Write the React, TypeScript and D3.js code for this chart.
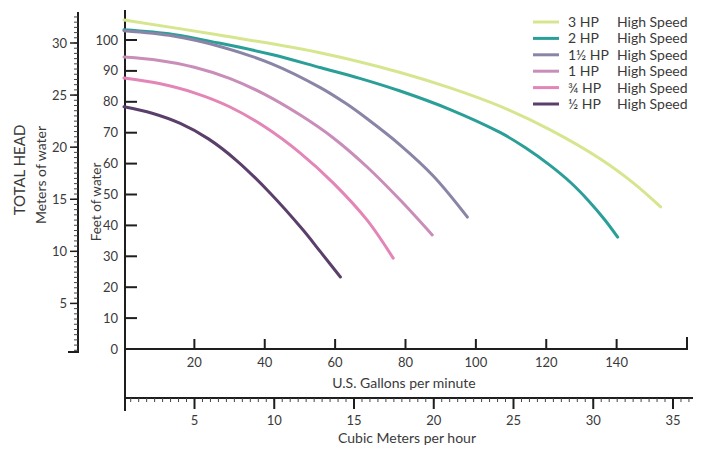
import React from "react";
import * as d3 from "d3";

const seriesNames = ["3 HP", "2 HP", "1½ HP", "1 HP", "¾ HP", "½ HP"];
const seriesColors = ["#d6e68e", "#2a9f98", "#8a85a6", "#c98db9", "#e385b6", "#5b3f6b"];

// [US gallons per minute, feet of water]
const hp3: [number, number][] = [[0, 106.5], [27, 101.6], [56, 95.8], [78.5, 89.5], [92.7, 84.5], [107, 78.5], [121, 71], [135.4, 61.5], [144.8, 53.7], [152.5, 46]];
const hp2: [number, number][] = [[0, 103.3], [14, 101.8], [27, 99], [42, 95.3], [56, 91], [67, 87.6], [78.5, 83.5], [92.7, 77.5], [107, 70], [114, 65.2], [121, 59.5], [127, 53.8], [132, 48], [136.5, 42], [140.3, 36.2]];
const hp15: [number, number][] = [[0, 103], [14, 101.3], [27, 98], [42, 92.3], [55.8, 84.6], [63, 79.5], [69.1, 74.5], [78.5, 66], [87.9, 56], [97.6, 42.7]];
const hp1: [number, number][] = [[0, 94.5], [10, 93.4], [20, 91.2], [30, 87.6], [40, 82.4], [50.1, 75.7], [59.5, 68.3], [69.1, 58.9], [78.5, 48.2], [87.6, 36.9]];
const hp075: [number, number][] = [[0, 87.7], [10, 85.9], [20, 82.9], [30, 78.4], [40, 71.9], [50.1, 63.4], [59.5, 53.7], [69.1, 41.7], [76.5, 29.4]];
const hp05: [number, number][] = [[0, 78.4], [8, 76.3], [16, 73], [24, 68], [32, 61], [41.5, 50.5], [50.9, 38.5], [55.8, 31.5], [61.5, 23.3]];
const seriesData = [hp3, hp2, hp15, hp1, hp075, hp05];

const feetTicks = [0, 10, 20, 30, 40, 50, 60, 70, 80, 90, 100];
const meterTicks = [5, 10, 15, 20, 25, 30];
const gpmTicks = [20, 40, 60, 80, 100, 120, 140, 160];
const gpmLabels = ["20", "40", "60", "80", "100", "120", "140", ""];
const cmhTicks = [5, 10, 15, 20, 25, 30, 35];

const FONT = "Lato, 'Open Sans', sans-serif";
const TXT = "#3a3a3a";
const AX = "#1e1e1e";

export default function App() {
  const x = d3.scaleLinear().domain([0, 160]).range([124, 687]);
  const y = d3.scaleLinear().domain([0, 100]).range([349, 40]);
  const ym = d3.scaleLinear().domain([0, 30]).range([355.5, 43]);
  const xc = d3.scaleLinear().domain([5, 35]).range([194.5, 673]);

  const line = d3
    .line<[number, number]>()
    .x((d) => x(d[0]))
    .y((d) => y(d[1]))
    .curve(d3.curveCatmullRom.alpha(0.5));

  const meterMinor: number[] = [];
  for (let k = 1; k <= 66; k++) {
    const v = k * 0.5;
    if (ym(v) >= 12 && ym(v) <= 352) meterMinor.push(v);
  }
  const cmhMinor: number[] = [];
  for (let k = 1; k <= 72; k++) {
    const v = k * 0.5;
    if (xc(v) >= 126 && xc(v) <= 692) cmhMinor.push(v);
  }

  return (
    <svg
      width={701}
      height={450}
      style={{ position: "absolute", left: 0, top: 0, background: "#fff" }}
      fontFamily={FONT}
    >
      {/* Meters axis */}
      <line x1={78} x2={78} y1={12} y2={352} stroke={AX} strokeWidth={2} />
      <line x1={68} x2={79} y1={352} y2={352} stroke={AX} strokeWidth={2} />
      {meterMinor.map((v) => (
        <line key={"mm" + v} x1={74} x2={78} y1={ym(v)} y2={ym(v)} stroke="#444" strokeWidth={1} />
      ))}
      {meterTicks.map((v) => (
        <g key={"mt" + v}>
          <line x1={70} x2={78} y1={ym(v)} y2={ym(v)} stroke={AX} strokeWidth={1.5} />
          <text x={67} y={ym(v)} dy="0.35em" textAnchor="end" fontSize={13} fill={TXT}>
            {v}
          </text>
        </g>
      ))}
      <text transform="translate(25,170) rotate(-90)" textAnchor="middle" fontSize={15} fill={TXT}>
        TOTAL HEAD
      </text>
      <text transform="translate(46,175) rotate(-90)" textAnchor="middle" fontSize={14} fill={TXT}>
        Meters of water
      </text>
      <text transform="translate(101,202) rotate(-90)" textAnchor="middle" fontSize={13.5} fill={TXT}>
        Feet of water
      </text>

      {/* Feet axis */}
      <line x1={125} x2={125} y1={10} y2={411} stroke={AX} strokeWidth={2} />
      {feetTicks.map((v) => (
        <g key={"ft" + v}>
          {v > 0 && <line x1={125} x2={137} y1={y(v)} y2={y(v)} stroke={AX} strokeWidth={2} />}
          <text x={118} y={y(v)} dy="0.35em" textAnchor="end" fontSize={13} fill={TXT}>
            {v}
          </text>
        </g>
      ))}

      {/* GPM axis */}
      <line x1={124} x2={688} y1={349} y2={349} stroke={AX} strokeWidth={2} />
      {gpmTicks.map((v, i) => (
        <g key={"gt" + v}>
          <line x1={x(v)} x2={x(v)} y1={349} y2={v === 160 ? 337 : 339} stroke={AX} strokeWidth={2} />
          <text x={x(v)} y={367} textAnchor="middle" fontSize={13} fill={TXT}>
            {gpmLabels[i]}
          </text>
        </g>
      ))}
      <text x={404} y={388} textAnchor="middle" fontSize={14} fill={TXT}>
        U.S. Gallons per minute
      </text>

      {/* Cubic meters axis */}
      <line x1={124} x2={693} y1={398} y2={398} stroke={AX} strokeWidth={2} />
      {cmhMinor.map((v) => (
        <line key={"cm" + v} x1={xc(v)} x2={xc(v)} y1={398} y2={402} stroke="#444" strokeWidth={1} />
      ))}
      {cmhTicks.map((v) => (
        <g key={"ct" + v}>
          <line x1={xc(v)} x2={xc(v)} y1={398} y2={409} stroke={AX} strokeWidth={2} />
          <text x={xc(v)} y={425} textAnchor="middle" fontSize={13} fill={TXT}>
            {v}
          </text>
        </g>
      ))}
      <text x={407} y={443} textAnchor="middle" fontSize={14} fill={TXT}>
        Cubic Meters per hour
      </text>

      {/* Curves */}
      {seriesData.map((d, i) => (
        <path
          key={"s" + i}
          d={line(d) || ""}
          fill="none"
          stroke={seriesColors[i]}
          strokeWidth={3}
          strokeLinecap="round"
        />
      ))}

      {/* Legend */}
      {seriesNames.map((n, i) => {
        const ly = 22 + i * 16.4;
        return (
          <g key={"lg" + i}>
            <line x1={533} x2={559} y1={ly} y2={ly} stroke={seriesColors[i]} strokeWidth={3} />
            <text x={568} y={ly} dy="0.35em" fontSize={14} fill={TXT}>
              {n}
            </text>
            <text x={617} y={ly} dy="0.35em" fontSize={14} fill={TXT}>
              High Speed
            </text>
          </g>
        );
      })}
    </svg>
  );
}
